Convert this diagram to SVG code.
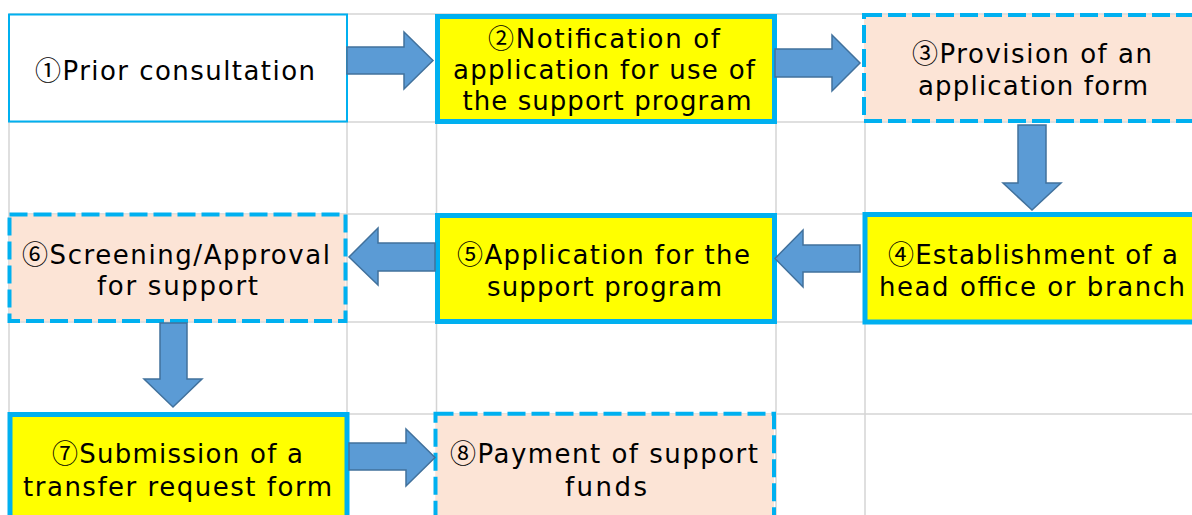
<svg xmlns="http://www.w3.org/2000/svg" width="1192" height="515" viewBox="0 0 1192 515">
  <style>
    .grid line { stroke: #D4D4D4; stroke-width: 1.5; }
    .plain { fill: #FFFFFF; stroke: #00B0F0; stroke-width: 2; }
    .key { fill: #FFFF00; stroke: #00B0F0; stroke-width: 5; }
    .todo { fill: #FCE4D6; stroke: #00B0F0; stroke-width: 4; stroke-dasharray: 18 6; }
    .label { font-family: "DejaVu Sans", "Noto Sans CJK JP", sans-serif; font-size: 26px; fill: #000000; text-anchor: middle; }
    .num { font-family: "Noto Sans CJK JP", "DejaVu Sans", sans-serif; }
    .arrow { fill: #5B9BD5; stroke: #41719C; stroke-width: 1.5; stroke-linejoin: miter; }
  </style>

  <rect x="0" y="0" width="1192" height="515" fill="#FFFFFF"/>

  <!-- spreadsheet cell grid -->
  <g class="grid">
    <line x1="9" y1="14" x2="9" y2="515"/>
    <line x1="347" y1="14" x2="347" y2="515"/>
    <line x1="436.5" y1="14" x2="436.5" y2="515"/>
    <line x1="776" y1="14" x2="776" y2="515"/>
    <line x1="865" y1="14" x2="865" y2="515"/>
    <line x1="9" y1="14" x2="1192" y2="14"/>
    <line x1="9" y1="122" x2="1192" y2="122"/>
    <line x1="9" y1="214" x2="1192" y2="214"/>
    <line x1="9" y1="322" x2="1192" y2="322"/>
    <line x1="9" y1="414" x2="1192" y2="414"/>
  </g>

  <!-- steps -->
  <g id="step1">
    <rect class="plain" x="9" y="14.5" width="338" height="107"/>
    <text class="label" x="175" y="80" textLength="280" lengthAdjust="spacing"><tspan class="num">①</tspan>Prior consultation</text>
  </g>

  <g id="step2">
    <rect class="key" x="437.5" y="16.5" width="337" height="105"/>
    <text class="label" x="604" y="47.5" textLength="232" lengthAdjust="spacing"><tspan class="num">②</tspan>Notification of</text>
    <text class="label" x="604" y="78.5" textLength="302" lengthAdjust="spacing">application for use of</text>
    <text class="label" x="607" y="110" textLength="289" lengthAdjust="spacing">the support program</text>
  </g>

  <g id="step3">
    <rect class="todo" x="864" y="15" width="340" height="106"/>
    <text class="label" x="1032" y="63" textLength="240" lengthAdjust="spacing"><tspan class="num">③</tspan>Provision of an</text>
    <text class="label" x="1033" y="95" textLength="230" lengthAdjust="spacing">application form</text>
  </g>

  <g id="step4">
    <rect class="key" x="865" y="214.5" width="340" height="107.5"/>
    <text class="label" x="1033" y="263.5" textLength="290" lengthAdjust="spacing"><tspan class="num">④</tspan>Establishment of a</text>
    <text class="label" x="1032" y="296" textLength="306" lengthAdjust="spacing">head office or branch</text>
  </g>

  <g id="step5">
    <rect class="key" x="437.5" y="215.5" width="337" height="106"/>
    <text class="label" x="603.5" y="264" textLength="293" lengthAdjust="spacing"><tspan class="num">⑤</tspan>Application for the</text>
    <text class="label" x="604.5" y="296" textLength="235" lengthAdjust="spacing">support program</text>
  </g>

  <g id="step6">
    <rect class="todo" x="9.5" y="214.5" width="336" height="106.5"/>
    <text class="label" x="176" y="263.5" textLength="308" lengthAdjust="spacing"><tspan class="num">⑥</tspan>Screening/Approval</text>
    <text class="label" x="177.5" y="294.5" textLength="161" lengthAdjust="spacing">for support</text>
  </g>

  <g id="step7">
    <rect class="key" x="10" y="414.5" width="337" height="110"/>
    <text class="label" x="177.5" y="463" textLength="251" lengthAdjust="spacing"><tspan class="num">⑦</tspan>Submission of a</text>
    <text class="label" x="177.5" y="495.5" textLength="309" lengthAdjust="spacing">transfer request form</text>
  </g>

  <g id="step8">
    <rect class="todo" x="435.5" y="413.7" width="338.5" height="110"/>
    <text class="label" x="604" y="463" textLength="308" lengthAdjust="spacing"><tspan class="num">⑧</tspan>Payment of support</text>
    <text class="label" x="606" y="496" textLength="82" lengthAdjust="spacing">funds</text>
  </g>

  <!-- block arrows between steps -->
  <g id="connectors">
    <polygon class="arrow" points="347,47 404,47 404,32 433,60.5 404,89 404,74 347,74"/>
    <polygon class="arrow" points="775,49 832,49 832,35 860,63 832,91 832,77 775,77"/>
    <polygon class="arrow" points="1018,125 1046,125 1046,183 1061,183 1032,210 1003,183 1018,183"/>
    <polygon class="arrow" points="860,245 803,245 803,230 775,258.5 803,287 803,272 860,272"/>
    <polygon class="arrow" points="435,243 378,243 378,228 349,257 378,285 378,271 435,271"/>
    <polygon class="arrow" points="160,323 187,323 187,379 202,379 173,407 144,379 160,379"/>
    <polygon class="arrow" points="349,443 406,443 406,429 435,457.5 406,486 406,470 349,470"/>
  </g>
</svg>
